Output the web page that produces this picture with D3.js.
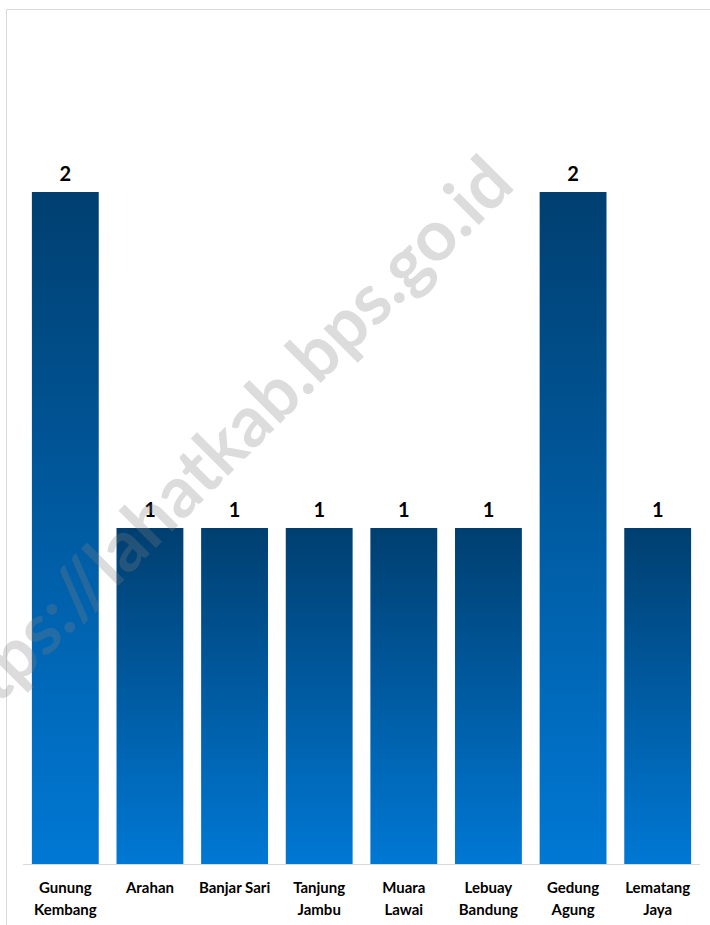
<!DOCTYPE html>
<html>
<head>
<meta charset="utf-8">
<script src="https://cdn.jsdelivr.net/npm/d3@7"></script>
<style>
  body { margin: 0; background: #fff; }
  svg { display: block; }
</style>
</head>
<body>
<svg width="710" height="925"></svg>
<script>
var categories = ["Gunung Kembang", "Arahan", "Banjar Sari", "Tanjung Jambu",
                  "Muara Lawai", "Lebuay Bandung", "Gedung Agung", "Lematang Jaya"];
var values = [2, 1, 1, 1, 1, 1, 2, 1];
var watermark = "https://lahatkab.bps.go.id";

var W = 710, H = 925,
    plotLeft = 23, plotRight = 700, plotTop = 24, base = 864,
    font = "Lato, 'Open Sans', sans-serif";

var svg = d3.select("svg");

// frame
svg.append("path")
    .attr("d", "M6.5," + H + " V9.5 H" + W)
    .attr("fill", "none")
    .attr("stroke", "#d9d9d9")
    .attr("stroke-width", 1);

var grad = svg.append("defs").append("linearGradient")
    .attr("id", "barGrad")
    .attr("x1", 0).attr("y1", 0).attr("x2", 0).attr("y2", 1);
grad.append("stop").attr("offset", "0%").attr("stop-color", "#003f70");
grad.append("stop").attr("offset", "100%").attr("stop-color", "#0078d4");

var x = d3.scaleBand()
    .domain(categories)
    .range([plotLeft, plotRight])
    .paddingInner(0.21)
    .paddingOuter(0.105);

var y = d3.scaleLinear()
    .domain([0, 2.5])
    .range([base, plotTop]);

var barsG = svg.append("g").attr("class", "bars");

barsG.selectAll("rect")
    .data(values)
    .enter()
        .append("rect")
        .attr("x", (d, i) => x(categories[i]))
        .attr("y", d => y(d))
        .attr("width", x.bandwidth())
        .attr("height", d => y(0) - y(d))
        .attr("fill", "url(#barGrad)");

// baseline
svg.append("line")
    .attr("x1", plotLeft).attr("x2", plotRight)
    .attr("y1", base + 0.5).attr("y2", base + 0.5)
    .attr("stroke", "#d9d9d9");

// value labels
svg.append("g").selectAll("text")
    .data(values)
    .enter()
        .append("text")
        .attr("x", (d, i) => x(categories[i]) + x.bandwidth() / 2)
        .attr("y", d => y(d) - 11)
        .attr("text-anchor", "middle")
        .attr("font-family", font)
        .attr("font-weight", "bold")
        .attr("font-size", 20)
        .attr("fill", "#000")
        .text(d => d);

// category labels, wrapped when wider than the band
var axisG = svg.append("g").attr("class", "xaxis");
categories.forEach(function(c) {
    var t = axisG.append("text")
        .attr("x", x(c) + x.bandwidth() / 2)
        .attr("y", 893)
        .attr("text-anchor", "middle")
        .attr("font-family", font)
        .attr("font-weight", "bold")
        .attr("font-size", 15)
        .attr("fill", "#000")
        .text(c);
    if (t.node().getComputedTextLength() > x.step()) {
        var words = c.split(" ");
        t.text(null);
        words.forEach(function(w, k) {
            t.append("tspan")
                .attr("x", x(c) + x.bandwidth() / 2)
                .attr("dy", k == 0 ? 0 : 22)
                .text(w);
        });
    }
});

// watermark
svg.append("text")
    .attr("transform", "translate(222,456) rotate(-45)")
    .attr("text-anchor", "middle")
    .attr("dominant-baseline", "middle")
    .attr("font-family", font)
    .attr("font-weight", "bold")
    .attr("font-size", 71)
    .attr("fill", "#808080")
    .attr("fill-opacity", 0.28)
    .text(watermark);
</script>
</body>
</html>
